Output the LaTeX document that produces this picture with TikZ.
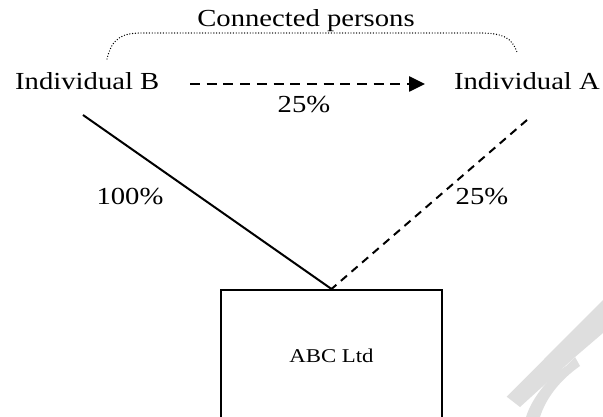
\documentclass[tikz,border=0pt]{standalone}
\usepackage{fontspec}
\setmainfont{Liberation Serif}[FakeStretch=1.17]
\usetikzlibrary{arrows.meta}
\definecolor{wmgray}{HTML}{DEDEDE}
\tikzset{
  lbl/.style={inner sep=0pt, font=\fontsize{24.5}{28}\selectfont},
  solidlink/.style={line width=2pt},
  dashlink/.style={line width=2pt, dash pattern=on 8pt off 6pt},
  arrowlink/.style={line width=2.6pt, dash pattern=on 10pt off 6.7pt, -{Triangle[length=16pt,width=15pt]}},
  bracket/.style={line width=1.4pt, line cap=round, dash pattern=on 0pt off 2.8pt},
  company/.style={draw, line width=2.4pt, minimum width=221pt, minimum height=132pt,
    inner sep=0pt, font=\fontsize{19.5}{23}\selectfont},
}
\begin{document}
\begin{tikzpicture}[x=1pt,y=-1pt]
  \useasboundingbox (0,0) rectangle (603,417);
  \clip (0,0) rectangle (603,417);
  \fill[white] (0,0) rectangle (603,417);

  % faint watermark letter in the corner
  \fill[wmgray] (506.7,396.7) -- (603,300) -- (603,333) -- (575,357) -- (520,407) -- cycle;
  \fill[wmgray] (526,417) .. controls (532,398) and (548,378) .. (566,366)
     -- (575,357) -- (580,366) .. controls (560,380) and (546,398) .. (540,417) -- cycle;

  % labels
  \node[lbl, anchor=base] (conn) at (306,27) {Connected persons};
  \node[lbl, anchor=base west] (indB) at (15,90) {Individual B};
  \node[lbl, anchor=base east] (indA) at (600,90) {Individual A};
  \node[lbl, anchor=base] (pctBA) at (304,113) {25\%};
  \node[lbl, anchor=base] (pctB) at (130,205) {100\%};
  \node[lbl, anchor=base] (pctA) at (482,205) {25\%};

  % company box
  \node[company, anchor=north] (abc) at (331.5,289) {ABC Ltd};

  % connector end points
  \coordinate (arrS) at (190,84);
  \coordinate (arrE) at (425,84);
  \coordinate (bEnd) at (83,115);
  \coordinate (aEnd) at (527,120);
  \coordinate (brL) at (107,59);
  \coordinate (brR) at (517,52);

  % connectors
  \draw[arrowlink] (arrS) -- (arrE);
  \draw[solidlink] (bEnd) -- (abc.north);
  \draw[dashlink] (aEnd) -- (abc.north);
  \draw[bracket] (brL) .. controls (112,38) and (122,33) .. (142,33)
     -- (480,33) .. controls (503,33) and (512,38) .. (brR);
\end{tikzpicture}
\end{document}
